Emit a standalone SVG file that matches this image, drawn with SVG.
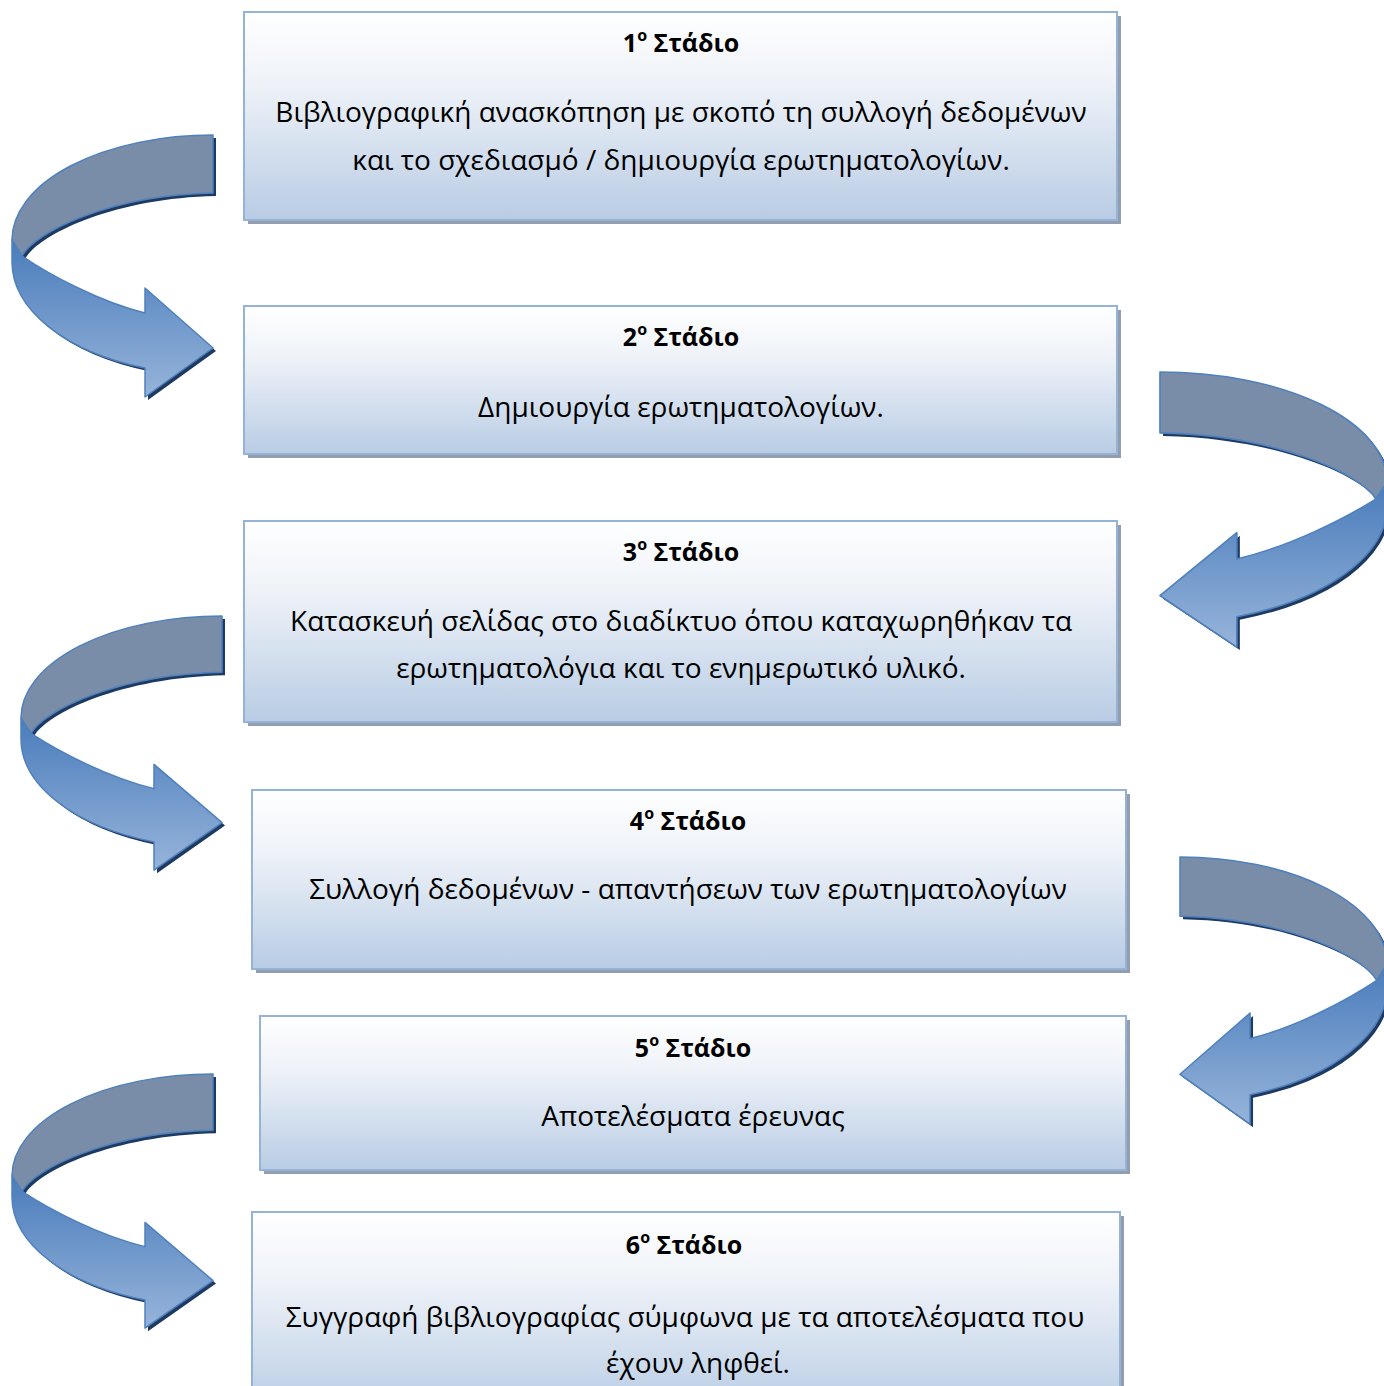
<svg xmlns="http://www.w3.org/2000/svg" xmlns:xlink="http://www.w3.org/1999/xlink" width="1384" height="1386" viewBox="0 0 1384 1386">
  <style>
    .box { fill: url(#boxFill); stroke: #95b3d7; stroke-width: 2; }
    .box-shadow { fill: #929eb0; }
    .title { font-family: "Open Sans", "Noto Sans", "DejaVu Sans", sans-serif; font-weight: bold; font-size: 25px; fill: #000; text-anchor: middle; }
    .sup { font-size: 16px; }
    .body { font-family: "Open Sans", "Noto Sans", "DejaVu Sans", sans-serif; font-size: 28px; fill: #000; text-anchor: middle; }
    .back { fill: #798ca8; stroke: #4f81bd; stroke-width: 1.5; stroke-linejoin: round; }
    .front { fill: url(#frontFill); stroke: #4f81bd; stroke-width: 1.5; stroke-linejoin: round; }
    .shade { fill: #1f3a60; }
  </style>
  <defs>
    <linearGradient id="boxFill" x1="0" y1="0" x2="0" y2="1">
      <stop offset="0" stop-color="#ffffff"/>
      <stop offset="0.35" stop-color="#eef2f8"/>
      <stop offset="1" stop-color="#b8cce4"/>
    </linearGradient>
    <linearGradient id="frontFill" x1="0" y1="0" x2="0" y2="1">
      <stop offset="0" stop-color="#4a7cbb"/>
      <stop offset="1" stop-color="#96b4da"/>
    </linearGradient>
    <!-- curved arrow, local origin at the top corner of the tail, bending left -->
    <path id="bandBack" d="M 0,0 A 201 105 0 0 0 -201,105 L -191,121 C -178,97 -103,60 0,58 Z"/>
    <path id="bandFront" d="M -201,105 L -201,127 A 201 113 0 0 0 -68,233 L -68,262 L 0,213 L -68,153 L -68,178 C -113,167 -163,140 -191,121 Z"/>
  </defs>

  <rect width="1384" height="1386" fill="#ffffff"/>

  <!-- connectors -->
  <g id="connectors">
    <g id="arrow-1-2">
      <g transform="translate(216,138)" class="shade"><use xlink:href="#bandBack"/><use xlink:href="#bandFront"/></g>
      <g transform="translate(213,135)">
        <use xlink:href="#bandBack" class="back"/>
        <use xlink:href="#bandFront" class="front"/>
      </g>
    </g>
    <g id="arrow-2-3">
      <g transform="translate(1163,375) scale(-1.13,1.05)" class="shade"><use xlink:href="#bandBack"/><use xlink:href="#bandFront"/></g>
      <g transform="translate(1160,372) scale(-1.13,1.05)">
        <use xlink:href="#bandBack" class="back"/>
        <use xlink:href="#bandFront" class="front"/>
      </g>
    </g>
    <g id="arrow-3-4">
      <g transform="translate(225,619) scale(1,0.97)" class="shade"><use xlink:href="#bandBack"/><use xlink:href="#bandFront"/></g>
      <g transform="translate(222,616) scale(1,0.97)">
        <use xlink:href="#bandBack" class="back"/>
        <use xlink:href="#bandFront" class="front"/>
      </g>
    </g>
    <g id="arrow-4-5">
      <g transform="translate(1183,860) scale(-1.03,1.02)" class="shade"><use xlink:href="#bandBack"/><use xlink:href="#bandFront"/></g>
      <g transform="translate(1180,857) scale(-1.03,1.02)">
        <use xlink:href="#bandBack" class="back"/>
        <use xlink:href="#bandFront" class="front"/>
      </g>
    </g>
    <g id="arrow-5-6">
      <g transform="translate(216,1077) scale(1,0.97)" class="shade"><use xlink:href="#bandBack"/><use xlink:href="#bandFront"/></g>
      <g transform="translate(213,1074) scale(1,0.97)">
        <use xlink:href="#bandBack" class="back"/>
        <use xlink:href="#bandFront" class="front"/>
      </g>
    </g>
  </g>

  <!-- stage boxes -->
  <g id="stage-1">
    <rect class="box-shadow" x="248" y="16" width="873" height="208"/>
    <rect class="box" x="244" y="12" width="873" height="208"/>
    <text class="title" x="681" y="52">1<tspan class="sup" dy="-11">ο</tspan><tspan dy="11"> Στάδιο</tspan></text>
    <text class="body" x="681" y="122">Βιβλιογραφική ανασκόπηση με σκοπό τη συλλογή δεδομένων</text>
    <text class="body" x="681" y="170">και το σχεδιασμό / δημιουργία ερωτηματολογίων.</text>
  </g>
  <g id="stage-2">
    <rect class="box-shadow" x="248" y="310" width="873" height="148"/>
    <rect class="box" x="244" y="306" width="873" height="148"/>
    <text class="title" x="681" y="346">2<tspan class="sup" dy="-11">ο</tspan><tspan dy="11"> Στάδιο</tspan></text>
    <text class="body" x="681" y="417">Δημιουργία ερωτηματολογίων.</text>
  </g>
  <g id="stage-3">
    <rect class="box-shadow" x="248" y="525" width="873" height="201"/>
    <rect class="box" x="244" y="521" width="873" height="201"/>
    <text class="title" x="681" y="561">3<tspan class="sup" dy="-11">ο</tspan><tspan dy="11"> Στάδιο</tspan></text>
    <text class="body" x="681" y="631">Κατασκευή σελίδας στο διαδίκτυο όπου καταχωρηθήκαν τα</text>
    <text class="body" x="681" y="678">ερωτηματολόγια και το ενημερωτικό υλικό.</text>
  </g>
  <g id="stage-4">
    <rect class="box-shadow" x="256" y="794" width="874" height="179"/>
    <rect class="box" x="252" y="790" width="874" height="179"/>
    <text class="title" x="688" y="830">4<tspan class="sup" dy="-11">ο</tspan><tspan dy="11"> Στάδιο</tspan></text>
    <text class="body" x="688" y="899">Συλλογή δεδομένων - απαντήσεων των ερωτηματολογίων</text>
  </g>
  <g id="stage-5">
    <rect class="box-shadow" x="264" y="1020" width="866" height="154"/>
    <rect class="box" x="260" y="1016" width="866" height="154"/>
    <text class="title" x="693" y="1057">5<tspan class="sup" dy="-11">ο</tspan><tspan dy="11"> Στάδιο</tspan></text>
    <text class="body" x="693" y="1126">Αποτελέσματα έρευνας</text>
  </g>
  <g id="stage-6">
    <rect class="box-shadow" x="256" y="1216" width="868" height="200"/>
    <rect class="box" x="252" y="1212" width="868" height="200"/>
    <text class="title" x="684" y="1254">6<tspan class="sup" dy="-11">ο</tspan><tspan dy="11"> Στάδιο</tspan></text>
    <text class="body" x="685" y="1327">Συγγραφή βιβλιογραφίας σύμφωνα με τα αποτελέσματα που</text>
    <text class="body" x="698" y="1373">έχουν ληφθεί.</text>
  </g>
</svg>
